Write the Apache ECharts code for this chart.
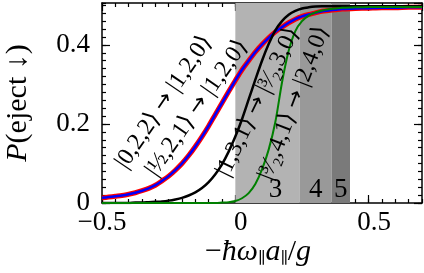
<!DOCTYPE html>
<html><head><meta charset="utf-8">
<script src="https://cdn.jsdelivr.net/npm/echarts@6/dist/echarts.min.js"></script>
<style>html,body{margin:0;padding:0;background:#fff}#c{width:424px;height:273px}</style>
</head><body><div id="c"></div>
<script>
// ---- data ----
const xs = [-0.5,-0.475,-0.45,-0.425,-0.4,-0.375,-0.35,-0.325,-0.3,-0.275,-0.25,-0.225,-0.2,-0.175,-0.15,-0.125,-0.1,-0.075,-0.05,-0.025,0,0.025,0.05,0.075,0.1,0.125,0.15,0.175,0.2,0.225,0.25,0.275,0.3,0.325,0.35,0.375,0.4,0.45,0.5,0.55,0.6,0.65,0.7];
const red022 = [0.013,0.015,0.017,0.019,0.022,0.026,0.031,0.037,0.045,0.056,0.068,0.083,0.100,0.120,0.143,0.168,0.195,0.224,0.253,0.282,0.310,0.337,0.360,0.382,0.401,0.418,0.433,0.445,0.456,0.465,0.472,0.477,0.481,0.485,0.487,0.489,0.491,0.492,0.493,0.494,0.494,0.495,0.495];
const blue121 = [0.013,0.015,0.017,0.019,0.022,0.026,0.031,0.037,0.045,0.056,0.068,0.083,0.100,0.120,0.143,0.168,0.195,0.224,0.253,0.282,0.310,0.337,0.360,0.382,0.401,0.418,0.433,0.445,0.456,0.465,0.472,0.477,0.481,0.485,0.487,0.489,0.491,0.492,0.493,0.494,0.494,0.495,0.495];
const black131 = [0,0,0,0,0,0.001,0.001,0.002,0.003,0.004,0.006,0.009,0.013,0.019,0.027,0.038,0.053,0.073,0.098,0.130,0.168,0.212,0.262,0.312,0.360,0.402,0.437,0.460,0.476,0.486,0.492,0.495,0.497,0.498,0.498,0.498,0.498,0.498,0.498,0.498,0.498,0.498,0.498];
const green141 = [0,0,0,0,0,0,0,0,0,0,0,0,0,0,0,0,0,0,0.001,0.002,0.005,0.012,0.025,0.048,0.085,0.135,0.205,0.305,0.385,0.435,0.460,0.474,0.482,0.487,0.490,0.492,0.494,0.495,0.496,0.496,0.496,0.496,0.496];
const regionEdges = [0, 0.242, 0.361, 0.43];
const regionLabels = ['3','4','5'];
const xTickLabels = [-0.5, 0, 0.5];
const yTickLabels = [0, 0.2, 0.4];
const annoTexts = [
  '|0,2,2\u27E9 \u2192 |1,2,0\u27E9',
  '|\u00BD,2,1\u27E9 \u2192 |1,2,0\u27E9',
  '|1,3,1\u27E9 \u2192 |\u00B3\u2044\u2082,3,0\u27E9',
  '|\u00B3\u2044\u2082,4,1\u27E9 \u2192 |2,4,0\u27E9'
];

// ---- style ----
const FF = "'Liberation Serif', 'DejaVu Serif', serif";
const annoPos = [[164,102,56],[197,108,55],[258,102,64],[294,103,69]];
const regionColors = ['#b3b3b3','#999999','#7a7a7a'];
const regionLabelOffset = [[8,0],[0,0],[0,0]];

const pairs = a => xs.map((x,i)=>[x,a[i]]);
const isTick = (v, list) => list.some(t=>Math.abs(t-v)<1e-9);
const fmtY = v => isTick(v, yTickLabels) ? String(v) : '';
const fmtX = v => {
  if (!isTick(v, xTickLabels)) return '';
  return v < 0 ? '\u2212' + String(Math.abs(v)) : '{p|' + String(v) + '}';
};

const axisBase = (type, pos, min, max, interval, major, labels) => ({
  type:'value', position:pos, min, max, interval,
  axisLine:{show:major, onZero:false, lineStyle:{color:'#000', width:1.5}},
  axisTick:{show:true, inside:true, length: major?8:4, lineStyle:{color:'#000', width:1.2}},
  splitLine:{show:false},
  axisLabel:{show:labels, showMaxLabel:false, showMinLabel:true, hideOverlap:false,
    fontFamily:FF, fontSize:27, color:'#000', margin: type==='x'?6:12,
    formatter: type==='x' ? fmtX : fmtY,
    rich:{p:{fontFamily:FF, fontSize:27, color:'#000', padding:[0,0,0,11]}}}
});

const markAreaData = regionLabels.map((lab,i)=>[
  {xAxis:regionEdges[i], itemStyle:{color:regionColors[i], opacity:1},
   label:{show:true, formatter:lab, position:'insideBottom', distance:0, offset:regionLabelOffset[i],
     color:'#000', fontFamily:FF, fontSize:27}},
  {xAxis:regionEdges[i+1]}
]);

const chart = echarts.init(document.getElementById('c'), null, {renderer:'canvas'});
chart.setOption({
  animation:false,
  backgroundColor:'#fff',
  grid:{left:102, right:2, top:3, bottom:70, containLabel:false, outerBoundsMode:'none'},
  xAxis:[
    axisBase('x','bottom',-0.5,0.7,0.5,true,true),
    axisBase('x','bottom',-0.5,0.7,0.05,false,false),
    axisBase('x','top',-0.5,0.7,0.5,true,false),
    axisBase('x','top',-0.5,0.7,0.05,false,false)
  ],
  yAxis:[
    axisBase('y','left',0,0.506,0.2,true,true),
    axisBase('y','left',0,0.506,0.02,false,false),
    axisBase('y','right',0,0.506,0.2,true,false),
    axisBase('y','right',0,0.506,0.02,false,false)
  ],
  series:[
    {type:'line', data:[], xAxisIndex:0, yAxisIndex:0, silent:true,
      markArea:{silent:true, data:markAreaData}},
    {type:'line', data:pairs(red022), showSymbol:false, smooth:0.3, lineStyle:{color:'#ff0000', width:5}, z:3},
    {type:'line', data:pairs(blue121), showSymbol:false, smooth:0.3, lineStyle:{color:'#0000ff', width:2.5}, z:4},
    {type:'line', data:pairs(black131), showSymbol:false, smooth:0.3, lineStyle:{color:'#000000', width:2.5}, z:5},
    {type:'line', data:pairs(green141), showSymbol:false, smooth:0.3, lineStyle:{color:'#008000', width:2}, z:6}
  ],
  graphic:[
    {type:'text', x:18, y:103, rotation:Math.PI/2, z:100,
      style:{text:'{i|P}{n|(eject \u2193)}', align:'center', verticalAlign:'middle', textAlign:'center', textVerticalAlign:'middle', fill:'#000',
        fontSize:30, fontFamily:FF,
        rich:{i:{fontStyle:'italic', fontSize:30, fontFamily:FF}, n:{fontSize:30, fontFamily:FF}}}},
    {type:'text', x:258, y:252, z:100,
      style:{text:'{n|\u2212}{i|\u0127\u03C9}{s|\u2225}{i|a}{s|\u2225}{n|/}{i|g}', align:'center', verticalAlign:'middle', textAlign:'center', textVerticalAlign:'middle', fill:'#000',
        fontSize:30, fontFamily:FF,
        rich:{i:{fontStyle:'italic', fontSize:30, fontFamily:FF}, n:{fontSize:30, fontFamily:FF},
              s:{fontSize:16, fontFamily:FF, verticalAlign:'bottom', padding:[14,0,0,0]}}}}
  ].concat(annoTexts.map((t,i)=>({
    type:'text', x:annoPos[i][0], y:annoPos[i][1], rotation:annoPos[i][2]*Math.PI/180, z:100,
    style:{text:'{n|' + t.replace('\u2192', '}{a|\u2192}{n|') + '}', align:'center', verticalAlign:'middle', textAlign:'center', textVerticalAlign:'middle', fill:'#000', fontSize:24, fontFamily:FF,
      rich:{n:{fontSize:24, fontFamily:FF}, a:{fontSize:22, fontFamily:"'DejaVu Sans'"}}}
  })))
});
</script></body></html>
